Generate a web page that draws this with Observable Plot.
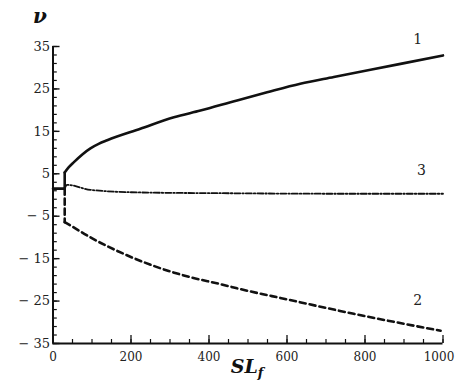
<!DOCTYPE html>
<html><head><meta charset="utf-8">
<script src="https://cdn.jsdelivr.net/npm/d3@7"></script>
<script src="https://cdn.jsdelivr.net/npm/@observablehq/plot@0.6"></script>
<style>body{margin:0;background:#fff} svg text{font-family:"DejaVu Serif",serif;}</style>
</head><body><div id="chart"></div>
<script>
// Curve 1 (solid)
const sl1 = [0, 30, 30, 40, 53, 96, 117, 139, 224, 310, 378, 472, 549, 634, 720, 891, 1000];
const v1  = [1.5, 1.5, 5.3, 6.5, 7.7, 11.0, 12.05, 12.9, 15.6, 18.3, 19.9, 22.3, 24.2, 26.2, 27.8, 30.9, 32.9];
// Curve 2 (dashed)
const sl2 = [30, 30, 45, 96, 182, 267, 353, 429, 472, 600, 771, 994];
const v2  = [1.5, -6.4, -7.2, -10.0, -13.9, -17.0, -19.4, -21.0, -22.0, -24.6, -28.0, -32.0];
// Curve 3 (dash-dot)
const sl3 = [30, 36, 96, 224, 472, 700, 1000];
const v3  = [1.5, 2.4, 1.2, 0.6, 0.4, 0.3, 0.3];

const xMajor = [0, 200, 400, 600, 800, 1000];
const yMajor = [35, 25, 15, 5, -5, -15, -25, -35];
const xMinor = d3.range(0, 1001, 50);
const yMinor = d3.range(-35, 36, 2);

const curveNames = ["1", "2", "3"];
const curveLabelX = [935, 935, 945];
const curveLabelY = [36.7, -24.9, 5.8];

const toRows = (xs, ys) => xs.map((x, i) => ({x, y: ys[i]}));
const labels = curveNames.map((t, i) => ({t, x: curveLabelX[i], y: curveLabelY[i]}));
const rows1 = toRows(sl1, v1), rows2 = toRows(sl2, v2), rows3 = toRows(sl3, v3);

const serif = "DejaVu Serif";

const svg = Plot.plot({
  width: 456, height: 382,
  marginLeft: 52.5, marginRight: 13.5, marginTop: 46, marginBottom: 39,
  x: {domain: [0, 1000], axis: null},
  y: {domain: [-35, 35], axis: null},
  style: {fontFamily: serif, fontSize: "13px", background: "#fff", color: "#111"},
  marks: [
    Plot.axisX(xMajor, {tickSize: 0, tickPadding: 9, label: null, fontSize: 12, fontFamily: serif, fill: "#222",
      tickFormat: d => String(d)}),
    Plot.axisY(yMajor, {tickSize: 0, tickPadding: 3, label: null, fontSize: 13, fontFamily: serif, fill: "#222",
      tickFormat: d => d < 0 ? "\u2212 " + (-d) : String(d)}),
    Plot.ruleX(xMinor, {x: d => d, y1: -35, y2: -34.05, stroke: "#111", strokeWidth: 1.2}),
    Plot.ruleX(xMajor, {x: d => d, y1: -35, y2: -33.1, stroke: "#111", strokeWidth: 1.3}),
    Plot.ruleY(yMinor, {y: d => d, x1: 0, x2: 11, stroke: "#111", strokeWidth: 1.2}),
    Plot.ruleY(yMajor, {y: d => d, x1: 0, x2: 18, stroke: "#111", strokeWidth: 1.4}),
    Plot.ruleY([-35], {x1: 0, x2: 1000, stroke: "#111", strokeWidth: 2.2}),
    Plot.ruleX([0], {y1: -35, y2: 35, stroke: "#111", strokeWidth: 2}),
    Plot.line(rows3, {x: "x", y: "y", stroke: "#111", strokeWidth: 1.8, strokeDasharray: "6,2,1.5,2", curve: "monotone-x"}),
    Plot.line(rows2.slice(0, 2), {x: "x", y: "y", stroke: "#111", strokeWidth: 2.6, strokeDasharray: "6,4"}),
    Plot.line(rows2.slice(1), {x: "x", y: "y", stroke: "#111", strokeWidth: 2.6, strokeDasharray: "6,4", curve: "monotone-x"}),
    Plot.line(rows1.slice(0, 3), {x: "x", y: "y", stroke: "#111", strokeWidth: 2.6}),
    Plot.line(rows1.slice(2), {x: "x", y: "y", stroke: "#111", strokeWidth: 2.6, curve: "monotone-x"}),
    Plot.text(labels, {x: "x", y: "y", text: "t", fontSize: 14, fontFamily: serif, fill: "#222"}),
    Plot.text(["\u03BD"], {frameAnchor: "top-left", dx: -20, dy: -38, fontSize: 20, fontFamily: serif, fontWeight: "bold", fontStyle: "italic", fill: "#111"})
  ]
});

const sel = d3.select(svg);
// keep the last x tick label inside the picture
const xLabels = sel.selectAll('g[aria-label="x-axis tick label"] text').nodes();
if (xLabels.length) d3.select(xLabels[xLabels.length - 1]).attr("dx", -4);

const t = sel.append("text")
  .attr("x", 247).attr("y", 373)
  .attr("text-anchor", "middle")
  .attr("font-family", serif)
  .attr("font-weight", "bold")
  .attr("font-style", "italic")
  .attr("font-size", 19)
  .attr("fill", "#111");
t.append("tspan").text("SL");
t.append("tspan").attr("font-size", 13).attr("dy", 4).text("f");

document.getElementById("chart").appendChild(svg);
</script>
</body></html>
